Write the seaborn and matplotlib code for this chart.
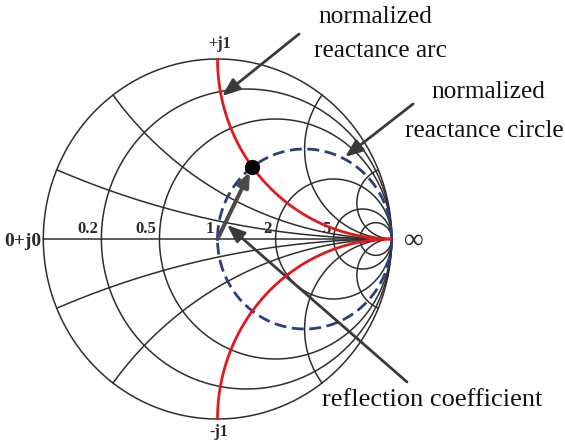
import numpy as np
import matplotlib
matplotlib.use("Agg")
import matplotlib.pyplot as plt
import seaborn as sns

# ---- data ----
r_values = [0.2, 0.5, 1, 2, 5, 10]          # constant-resistance circles
x_values = [0.2, 0.5, 2, 5]                 # constant-reactance arcs (±)
x_highlight = [1, -1]                       # highlighted reactance arcs (red)
r_highlight = 1                             # highlighted resistance circle (blue dashed)
z_point = complex(1, 1)                     # normalized impedance point
r_labels = ["0.2", "0.5", "1", "2", "5"]
r_label_values = [0.2, 0.5, 1, 2, 5]

sns.set_theme(style="white")
plt.rcParams["font.family"] = ["Liberation Serif", "DejaVu Serif"]

W, H = 565, 443
fig = plt.figure(figsize=(W / 100, H / 100), dpi=100)
ax = fig.add_axes([0, 0, 1, 1])
cx, cy, rx, ry = 217.5, 239.0, 174.2, 180.0
ax.set_xlim(-cx / rx, (W - cx) / rx)
ax.set_ylim(-(H - cy) / ry, cy / ry)
ax.set_aspect("auto")
ax.axis("off")

def gamma(z):
    return (z - 1) / (z + 1)

def px(xp, yp):
    return ((xp - cx) / rx, (cy - yp) / ry)

grid_col = "#2e2e2e"
glw = 1.1
t = np.linspace(-np.pi / 2 + 1e-4, np.pi / 2 - 1e-4, 800)
rs_param = np.logspace(-4, 3.5, 800)

def draw(g, **kw):
    sns.lineplot(x=g.real, y=g.imag, sort=False, estimator=None, ax=ax, **kw)

# outer circle (r = 0)
th = np.linspace(0, 2 * np.pi, 1000)
draw(np.exp(1j * th), color=grid_col, lw=glw)
# real axis
draw(np.array([-1 + 0j, 1 + 0j]), color=grid_col, lw=glw)
# resistance circles (highlighted one drawn separately)
for r in r_values:
    if r == r_highlight:
        continue
    xx = np.tan(t) * (1 + r) * 3
    draw(gamma(r + 1j * np.concatenate([xx, xx[:1]])), color=grid_col, lw=glw)
# reactance arcs
for x in x_values:
    for s in (1, -1):
        draw(gamma(np.concatenate([[0], rs_param]) + 1j * s * x), color=grid_col, lw=glw)

# highlighted resistance circle (blue dashed)
xx = np.tan(t) * 6
g = gamma(r_highlight + 1j * np.concatenate([xx, xx[:1]]))
ax.plot(g.real, g.imag, color="#2b3f7e", lw=2.0, linestyle=(0, (4.3, 2.0)), zorder=3)
# highlighted reactance arcs (red)
for x in x_highlight:
    g = gamma(np.concatenate([[0], rs_param]) + 1j * x)
    ax.plot(g.real, g.imag, color="#e3191f", lw=2.0, zorder=4)

# point
gp = gamma(z_point)
ax.plot([gp.real], [gp.imag], "o", color="black", ms=10, zorder=6)
# reflection coefficient vector
ax.annotate("", xy=(gp.real * 0.93, gp.imag * 0.93), xytext=(0, 0),
            arrowprops=dict(arrowstyle="-|>,head_length=0.7,head_width=0.3",
                            color="#4a4a4a", lw=2.9, shrinkA=0, shrinkB=0), zorder=5)

# axis labels
lab_col = "#2a2a2a"
for lab, r in zip(r_labels, r_label_values):
    gx = gamma(r).real
    ax.text(gx - 0.02, 0.012, lab, ha="right", va="bottom", fontsize=12,
            fontweight="bold", color=lab_col, zorder=2)
ax.text(px(41, 0)[0], -0.012, "0+j0", ha="right", va="center", fontsize=14,
        fontweight="bold", color=lab_col)
ax.text(0.01, 1.04, "+j1", ha="center", va="bottom", fontsize=11.5,
        fontweight="bold", color=lab_col)
ax.text(0.01, -1.075, "-j1", ha="center", va="center", fontsize=11.5,
        fontweight="bold", color=lab_col)
ax.text(1.07, -0.01, "\u221e", ha="left", va="center", fontsize=20, color=lab_col)

# annotations
arrow_kw = dict(arrowstyle="-|>,head_length=0.9,head_width=0.35", color="#3a3a3a",
                lw=2.0, shrinkA=0, shrinkB=0)
ax.annotate("", xy=px(222, 96), xytext=px(299, 34), arrowprops=arrow_kw)
ax.annotate("", xy=px(345, 157), xytext=px(413, 104), arrowprops=arrow_kw)
ax.annotate("", xy=px(227, 225), xytext=px(407, 382), arrowprops=arrow_kw)

def ftext(xp, yp, s, fs=18.3):
    fig.text(xp / W, 1 - yp / H, s, ha="center", va="center", fontsize=fs,
             color="#111111")

ftext(375, 17, "normalized")
ftext(381, 51, "reactance arc")
ftext(488, 92, "normalized")
ftext(484, 131, "reactance circle")
ftext(432, 400, "reflection coefficient", fs=19)

fig.savefig("out.png", dpi=100)
